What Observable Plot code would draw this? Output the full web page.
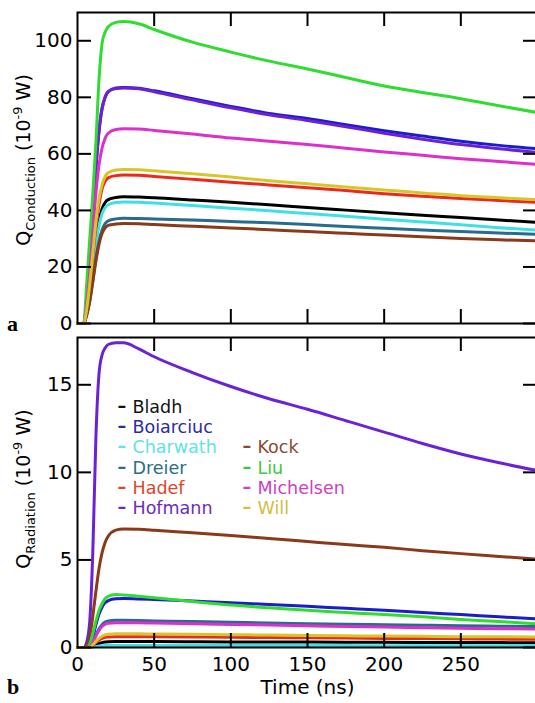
<!DOCTYPE html>
<html>
<head>
<meta charset="utf-8">
<script src="https://cdn.jsdelivr.net/npm/d3@7"></script>
<script src="https://cdn.jsdelivr.net/npm/@observablehq/plot@0.6"></script>
<style>
  html, body { margin: 0; padding: 0; background: #fff; }
  #wrap { position: relative; width: 535px; height: 703px; overflow: hidden; background: #fff; }
  .panel { position: absolute; left: 0; }
  .tag { position: absolute; font-family: "Liberation Serif", serif; font-weight: bold; font-size: 22px; line-height: 1; }
</style>
</head>
<body>
<div id="wrap">
  <div class="panel" id="pa" style="top:0px"></div>
  <div class="panel" id="pb" style="top:330px"></div>
  <div class="tag" style="left:7px; top:313px">a</div>
  <div class="tag" style="left:7px; top:676px">b</div>
</div>
<script>
// ---------- data ----------
const names = ["Bladh","Boiarciuc","Charwath","Dreier","Hadef","Hofmann","Kock","Liu","Michelsen","Will"];
const lineColors = ["#000000","#1c1cc8","#3ee0e6","#276c8c","#ec2a1c","#6b22d6","#8a3a1a","#30dc30","#dc30cc","#d6c62a"];
const legendColors = ["#111111","#2b2ba8","#5ee4e4","#2c6c84","#e0442c","#6a2cc0","#8a4a30","#3cc83c","#cf40c0","#cfc040"];

const times = [0,4,6,8,10,12,14,16,18,20,25,30,40,50,75,100,125,150,175,200,225,250,275,300];

// Conduction (1e-9 W)
const condBladh     = [0,0,4,11,20,29,36,40.5,42.8,43.8,44.6,44.8,44.7,44.5,43.7,42.9,42,41,40.1,39.2,38.3,37.5,36.6,35.8];
const condBoiarciuc = [0,0,8,22,38,55,68,76,80,82,83.3,83.5,83.2,82.3,79.5,76.8,74.3,72.5,70.3,68.2,66.3,64.5,63,61.8];
const condCharwath  = [0,0,4,10,19,28,34.5,38.8,41,42,42.8,43,42.9,42.6,41.7,40.8,39.9,38.9,37.9,36.9,35.9,34.9,33.9,33];
const condDreier    = [0,0,3,8,15,23,29,33,35.3,36.3,37,37.2,37.1,37,36.6,36.1,35.6,35,34.3,33.7,33.1,32.5,32,31.5];
const condHadef     = [0,0,5,13,24,34,42,47.5,50.3,51.5,52.3,52.5,52.4,52,51,50,49,48,47,45.9,45,44.2,43.5,42.8];
const condHofmann   = [0,0,8,22,38,55,68,76,80,82,83.1,83.3,83.0,82.0,79.1,76.3,73.8,71.8,69.6,67.3,65.2,63.3,61.8,60.5];
const condKock      = [0,0,3,8,15,22,28,31.8,33.8,34.7,35.2,35.4,35.3,35,34.4,33.8,33.2,32.5,31.9,31.3,30.7,30.1,29.6,29.2];
const condLiu       = [0,0,14,30,46,64,86,99,103,105,106.5,106.8,106,104,99.5,96,92.8,90,87,84,81.7,79.5,77,74.6];
const condMichelsen = [0,0,7,18,32,46,56,62,65.5,67.3,68.6,68.9,68.8,68.3,67,65.6,64.5,63.3,62,60.7,59.5,58.3,57.3,56.3];
const condWill      = [0,0,5,14,25,36,44,49,52,53.3,54.3,54.5,54.4,54,53,51.8,50.5,49.4,48.3,47.2,46.2,45.2,44.5,43.8];

// Radiation (1e-9 W)
const radBladh     = [0,0,0,0.01,0.06,0.15,0.23,0.28,0.31,0.33,0.34,0.34,0.34,0.34,0.33,0.32,0.32,0.31,0.3,0.3,0.29,0.28,0.28,0.27];
const radBoiarciuc = [0,0,0,0.15,0.6,1.3,1.9,2.3,2.55,2.68,2.79,2.8,2.77,2.74,2.65,2.56,2.45,2.35,2.24,2.13,2.0,1.88,1.75,1.63];
const radCharwath  = [0,0,0,0,0.02,0.05,0.08,0.1,0.11,0.12,0.12,0.12,0.12,0.12,0.12,0.11,0.11,0.11,0.11,0.1,0.1,0.1,0.1,0.1];
const radDreier    = [0,0,0,0.05,0.3,0.7,1.05,1.3,1.45,1.52,1.55,1.55,1.54,1.52,1.48,1.44,1.4,1.36,1.33,1.3,1.27,1.24,1.22,1.2];
const radHadef     = [0,0,0,0.02,0.12,0.28,0.42,0.52,0.58,0.6,0.62,0.62,0.62,0.61,0.6,0.58,0.57,0.55,0.54,0.52,0.51,0.5,0.48,0.47];
const radHofmann   = [0,0,0.3,1.5,5.5,12,15.6,16.7,17.1,17.3,17.4,17.4,17.05,16.6,15.7,14.9,14.2,13.6,12.95,12.3,11.65,11.05,10.55,10.1];
const radKock      = [0,0,0.1,0.6,1.8,3.2,4.5,5.4,6.0,6.35,6.7,6.77,6.75,6.7,6.55,6.4,6.22,6.05,5.88,5.72,5.53,5.36,5.2,5.04];
const radLiu       = [0,0,0,0.2,0.8,1.5,2.1,2.5,2.78,2.92,3.02,3.0,2.92,2.84,2.62,2.42,2.27,2.12,2.0,1.88,1.75,1.6,1.48,1.35];
const radMichelsen = [0,0,0,0.05,0.3,0.65,0.98,1.2,1.33,1.39,1.42,1.42,1.41,1.4,1.36,1.32,1.28,1.24,1.2,1.17,1.13,1.1,1.07,1.05];
const radWill      = [0,0,0,0.02,0.15,0.35,0.52,0.64,0.72,0.76,0.78,0.78,0.78,0.77,0.75,0.73,0.71,0.69,0.67,0.65,0.64,0.62,0.61,0.6];

const xTicks = [50,100,150,200,250];
const xTickLabels = [0,50,100,150,200,250];
const condTicks = [0,20,40,60,80,100];
const radTicks = [0,5,10,15];

(function () {
  const condSeries = [condBladh,condBoiarciuc,condCharwath,condDreier,condHadef,condHofmann,condKock,condLiu,condMichelsen,condWill];
  const radSeries  = [radBladh,radBoiarciuc,radCharwath,radDreier,radHadef,radHofmann,radKock,radLiu,radMichelsen,radWill];
  function toRows(series) {
    const rows = [];
    names.forEach((n, i) => times.forEach((t, j) => rows.push({name: n, t, v: series[i][j]})));
    return rows;
  }
  const condData = toRows(condSeries);
  const radData = toRows(radSeries);

  const W = 537, ML = 77;
  const FONT = "DejaVu Sans, sans-serif";
  const tickLen = 14;

  function panel({data, yDomain, height, mt, mb, yTicks, showX}) {
    const fw = W - ML, fh = height - mt - mb;
    const marks = [
      Plot.line(data, {x: "t", y: "v", z: "name", stroke: "name", strokeWidth: 3, curve: "monotone-x"}),
      Plot.tickY(yTicks, {y: d => d, insetRight: fw - tickLen, stroke: "black", strokeWidth: 2}),
      Plot.tickY(yTicks, {y: d => d, insetLeft: fw - tickLen, stroke: "black", strokeWidth: 2}),
      Plot.tickX(xTicks, {x: d => d, insetBottom: fh - tickLen, stroke: "black", strokeWidth: 2}),
      Plot.tickX(xTicks, {x: d => d, insetTop: fh - tickLen, stroke: "black", strokeWidth: 2}),
      Plot.axisY(yTicks, {tickSize: 0, tickPadding: 5, label: null, fontSize: 20}),
      Plot.frame({stroke: "black", strokeWidth: 2})
    ];
    if (showX) {
      marks.push(Plot.axisX(xTickLabels, {tickSize: 0, tickPadding: 9, label: null, fontSize: 20}));
      marks.push(Plot.text(["Time (ns)"], {frameAnchor: "bottom", dy: 46, fontSize: 20, fill: "black"}));
    }
    return Plot.plot({
      width: W, height, marginLeft: ML, marginRight: 0, marginTop: mt, marginBottom: mb,
      style: {fontFamily: FONT, fontSize: "20px", background: "transparent", maxWidth: "none", color: "black", overflow: "visible"},
      x: {domain: [0, 300], axis: showX ? undefined : null},
      y: {domain: yDomain},
      color: {domain: names, range: lineColors},
      marks
    });
  }

  const legendMarks = [];
  names.forEach((n, i) => {
    const col = i < 6 ? 0 : 1;
    const row = i < 6 ? i : i - 4;
    const dy = 63 + row * 20.2;
    const dashDx = col === 0 ? 40 : 165;
    const textDx = col === 0 ? 55 : 180;
    legendMarks.push(Plot.text([n], {text: d => "–", frameAnchor: "top-left", dx: dashDx, dy: dy - 1, textAnchor: "start", fill: legendColors[i], fontSize: 17.5, fontWeight: "bold"}));
    legendMarks.push(Plot.text([n], {text: d => d, frameAnchor: "top-left", dx: textDx, dy, textAnchor: "start", fill: legendColors[i], fontSize: 17.5}));
  });

  const topPlot = panel({data: condData, yDomain: [0, 110], height: 330, mt: 12, mb: 7, yTicks: condTicks, showX: false});
  const bottomPlot = panel({data: radData, yDomain: [0, 17.7], height: 373, mt: 7, mb: 56, yTicks: radTicks, showX: true});

  const legendPlot = Plot.plot({
    width: W, height: 373, marginLeft: ML, marginRight: 0, marginTop: 7, marginBottom: 56,
    style: {fontFamily: FONT, fontSize: "17.5px", background: "transparent", maxWidth: "none"},
    x: {domain: [0, 300], axis: null}, y: {domain: [0, 17.7], axis: null},
    marks: legendMarks
  });

  function yLabel(svg, cy, sub) {
    const t = d3.select(svg).append("text")
      .attr("transform", `translate(30,${cy}) rotate(-90)`)
      .attr("text-anchor", "middle")
      .attr("font-family", FONT)
      .attr("font-size", 19)
      .attr("fill", "black");
    t.append("tspan").text("Q");
    t.append("tspan").attr("font-size", 13).attr("dy", 5).text(sub);
    t.append("tspan").attr("dy", -5).text(" (10");
    t.append("tspan").attr("font-size", 13).attr("dy", -8).text("-9");
    t.append("tspan").attr("dy", 8).text(" W)");
  }
  yLabel(topPlot, 160, "Conduction");
  yLabel(bottomPlot, 159, "Radiation");

  document.getElementById("pa").append(topPlot);
  const pb = document.getElementById("pb");
  pb.append(bottomPlot);
  legendPlot.style.position = "absolute";
  legendPlot.style.left = "0px";
  legendPlot.style.top = "0px";
  pb.append(legendPlot);
})();
</script>
</body>
</html>
